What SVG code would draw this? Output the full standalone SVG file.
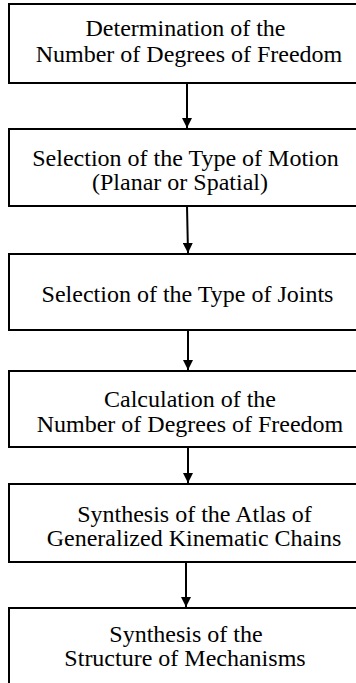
<svg xmlns="http://www.w3.org/2000/svg" width="356" height="683" viewBox="0 0 356 683">
<style>
.box{fill:#fff;stroke:#000;stroke-width:2}
.t{font-family:"Liberation Serif","Times New Roman",serif;font-size:24px;fill:#000;text-anchor:middle}
.c{stroke:#000;stroke-width:2;fill:none}
</style>
<defs>
<marker id="ah" markerUnits="userSpaceOnUse" markerWidth="10" markerHeight="10" refX="10" refY="5" orient="auto" viewBox="0 0 10 10">
<path d="M0,0 L10,5 L0,10 Z" fill="#000"/>
</marker>
</defs>
<rect width="356" height="683" fill="#fff"/>
<g id="n1">
<rect class="box" x="9" y="4" width="370" height="79"/>
<text class="t" x="185.5" y="36">Determination of the</text>
<text class="t" x="189" y="62">Number of Degrees of Freedom</text>
</g>
<g id="n2">
<rect class="box" x="9" y="129" width="370" height="77"/>
<text class="t" x="185.5" y="166">Selection of the Type of Motion</text>
<text class="t" x="180" y="190">(Planar or Spatial)</text>
</g>
<g id="n3">
<rect class="box" x="9" y="254" width="370" height="76"/>
<text class="t" x="187.5" y="302">Selection of the Type of Joints</text>
</g>
<g id="n4">
<rect class="box" x="9" y="371" width="370" height="76"/>
<text class="t" x="190" y="407">Calculation of the</text>
<text class="t" x="190" y="432">Number of Degrees of Freedom</text>
</g>
<g id="n5">
<rect class="box" x="9" y="484" width="370" height="78"/>
<text class="t" x="194.5" y="522">Synthesis of the Atlas of</text>
<text class="t" x="194" y="546">Generalized Kinematic Chains</text>
</g>
<g id="n6">
<rect class="box" x="9" y="608" width="370" height="100"/>
<text class="t" x="186" y="642">Synthesis of the</text>
<text class="t" x="185" y="666">Structure of Mechanisms</text>
</g>
<g id="connectors">
<line class="c" x1="187" y1="83" x2="187" y2="128" marker-end="url(#ah)"/>
<line class="c" x1="187" y1="206" x2="188" y2="253" marker-end="url(#ah)"/>
<line class="c" x1="188" y1="330" x2="188" y2="370" marker-end="url(#ah)"/>
<line class="c" x1="188" y1="447" x2="188" y2="483" marker-end="url(#ah)"/>
<line class="c" x1="186" y1="562" x2="186" y2="607" marker-end="url(#ah)"/>
</g>
</svg>
